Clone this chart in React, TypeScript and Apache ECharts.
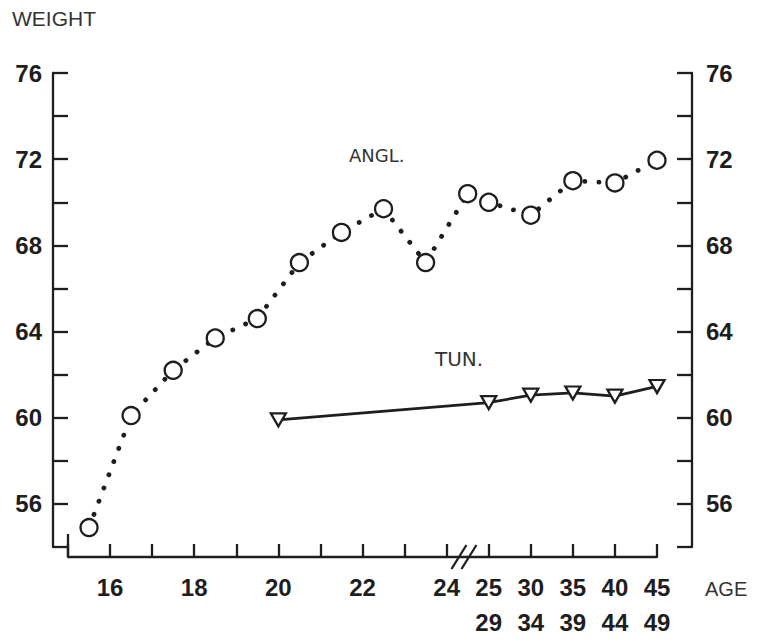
import React, { useEffect, useRef } from "react";
import * as echarts from "echarts";

// ---- Data ----
const ANGL_AGES = [15.5, 16.5, 17.5, 18.5, 19.5, 20.5, 21.5, 22.5, 23.5, 24.5, 25, 26, 27, 28, 29];
const ANGL_WEIGHTS = [54.9, 60.1, 62.2, 63.7, 64.6, 67.2, 68.6, 69.7, 67.2, 70.4, 70.0, 69.4, 71.0, 70.9, 71.95];

const TUN_AGES = [20, 25, 26, 27, 28, 29];
const TUN_WEIGHTS = [59.9, 60.7, 61.05, 61.15, 61.0, 61.45];

const X_TICK_VALUES = [16, 18, 20, 22, 24, 25, 26, 27, 28, 29];
const X_TICK_LABELS = ["16", "18", "20", "22", "24", "25\n29", "30\n34", "35\n39", "40\n44", "45\n49"];
const Y_LABEL_VALUES = [56, 60, 64, 68, 72, 76];

const INK = "#1e1e1e";
const FONT = "'Liberation Sans', Arial, sans-serif";

export default function App() {
  const ref = useRef<HTMLDivElement>(null);

  useEffect(() => {
    if (!ref.current) return;
    const chart = echarts.init(ref.current, null, { renderer: "svg" });

    const yLabel = (v: number) => (Y_LABEL_VALUES.indexOf(v) >= 0 ? String(v) : "");
    const xLabel = (v: number) => {
      const i = X_TICK_VALUES.indexOf(v);
      return i >= 0 ? X_TICK_LABELS[i] : "";
    };

    const yBase = {
      type: "value" as const,
      min: 54,
      max: 76,
      interval: 2,
      splitLine: { show: false },
      axisLine: { show: true, lineStyle: { color: INK, width: 2.3 } },
      axisTick: { show: true, inside: true, length: 15, lineStyle: { color: INK, width: 2.3 } },
    };

    const option: any = {
      animation: false,
      backgroundColor: "#ffffff",
      grid: { left: 68, right: 100, top: 73, bottom: 96, containLabel: false, outerBoundsMode: "none" },
      xAxis: {
        type: "value",
        min: 15,
        max: 29,
        interval: 1,
        offset: 10,
        splitLine: { show: false },
        axisLine: { show: true, lineStyle: { color: INK, width: 2.3 } },
        axisTick: { show: true, inside: true, length: 13, lineStyle: { color: INK, width: 2.3 } },
        axisLabel: {
          formatter: xLabel,
          color: INK,
          fontFamily: FONT,
          fontWeight: "bold",
          fontSize: 24,
          lineHeight: 35,
          margin: 13,
        },
      },
      yAxis: [
        {
          ...yBase,
          position: "left",
          offset: 15,
          axisLabel: { formatter: yLabel, color: INK, fontFamily: FONT, fontWeight: "bold", fontSize: 24, margin: 11 },
        },
        {
          ...yBase,
          position: "right",
          offset: 35,
          axisLabel: { formatter: yLabel, color: INK, fontFamily: FONT, fontWeight: "bold", fontSize: 24, margin: 14 },
        },
      ],
      series: [
        {
          name: "ANGL.",
          type: "line",
          data: ANGL_AGES.map((a, i) => [a, ANGL_WEIGHTS[i]]),
          symbol: "circle",
          symbolSize: 17,
          showAllSymbol: true,
          itemStyle: { color: "#ffffff", borderColor: INK, borderWidth: 2.3 },
          lineStyle: { color: INK, width: 4.8, type: [0.1, 14], cap: "round" },
          z: 3,
        },
        {
          name: "TUN.",
          type: "line",
          data: TUN_AGES.map((a, i) => [a, TUN_WEIGHTS[i]]),
          symbol: "triangle",
          symbolRotate: 180,
          symbolSize: [15, 13],
          showAllSymbol: true,
          itemStyle: { color: "#ffffff", borderColor: INK, borderWidth: 2.3 },
          lineStyle: { color: INK, width: 2.8 },
          z: 3,
        },
      ],
    };

    chart.setOption(option);

    const [bx, by] = chart.convertToPixel({ xAxisIndex: 0, yAxisIndex: 0 }, [24.4, 54]) as number[];
    const [sx] = chart.convertToPixel({ xAxisIndex: 0, yAxisIndex: 0 }, [15, 54]) as number[];
    const axisY = by + 10;

    chart.setOption({
      graphic: [
        { type: "text", left: 12, top: 8, style: { text: "WEIGHT", fontSize: 21, fontFamily: "'Liberation Sans', sans-serif", fill: "#333" } },
        { type: "text", left: 705, top: 579, style: { text: "AGE", fontSize: 20, fontFamily: "'Liberation Sans', sans-serif", fill: "#333" } },
        { type: "text", left: 349, top: 146, style: { text: "ANGL.", fontSize: 18, fontFamily: "'DejaVu Sans', sans-serif", fill: "#333" } },
        { type: "text", left: 435, top: 349, style: { text: "TUN.", fontSize: 20, fontFamily: "'DejaVu Sans', sans-serif", fill: "#333" } },
        {
          type: "line",
          shape: { x1: sx, y1: axisY, x2: sx, y2: axisY - 23 },
          style: { stroke: INK, lineWidth: 2.3 },
          z: 10,
        },
        {
          type: "line",
          shape: { x1: bx - 12, y1: axisY + 12, x2: bx + 3, y2: axisY - 12 },
          style: { stroke: INK, lineWidth: 2.3 },
          z: 10,
        },
        {
          type: "line",
          shape: { x1: bx - 2, y1: axisY + 12, x2: bx + 13, y2: axisY - 12 },
          style: { stroke: INK, lineWidth: 2.3 },
          z: 10,
        },
      ],
    });

    return () => chart.dispose();
  }, []);

  return (
    <div
      ref={ref}
      style={{ position: "fixed", left: 0, top: 0, width: 757, height: 643, background: "#fff" }}
    />
  );
}
